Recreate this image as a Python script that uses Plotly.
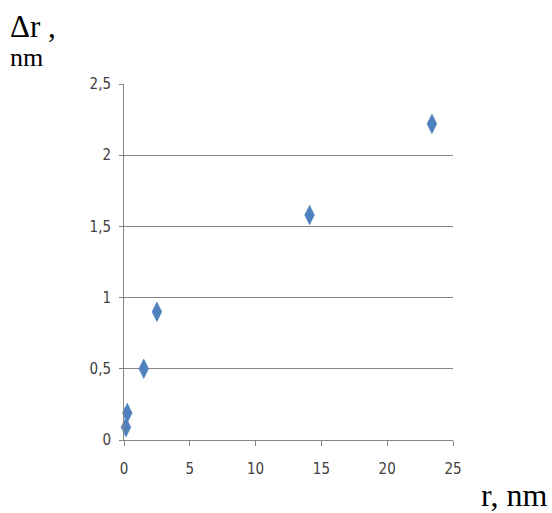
import plotly.graph_objects as go

r_nm = [0.15, 0.25, 1.5, 2.5, 14.1, 23.4]
dr_nm = [0.09, 0.19, 0.50, 0.90, 1.58, 2.22]

x_ticks = [0, 5, 10, 15, 20, 25]
x_ticktext = ["0", "5", "10", "15", "20", "25"]
y_ticks = [0, 0.5, 1, 1.5, 2, 2.5]
y_ticktext = ["0", "0,5", "1", "1,5", "2", "2,5"]

tick_font = dict(family="Liberation Sans Narrow, DejaVu Sans Condensed, Arial Narrow", size=15, color="#404040")
serif = "Liberation Serif, Times New Roman"

fig = go.Figure()
fig.add_trace(go.Scatter(
    x=r_nm, y=dr_nm, mode="markers",
    marker=dict(symbol="diamond-tall", size=14, color="#4F81BD",
                line=dict(width=0.5, color="#4A7EBB")),
    showlegend=False, cliponaxis=False,
))

fig.update_layout(
    width=552, height=513,
    margin=dict(l=124, r=99, t=84, b=73),
    paper_bgcolor="white", plot_bgcolor="white",
    xaxis=dict(range=[0, 25], tickvals=x_ticks, ticktext=x_ticktext,
               showgrid=False, zeroline=False, showline=True, linecolor="#868686",
               linewidth=1, ticks="outside", ticklen=5, tickcolor="#868686",
               tickfont=tick_font, ticklabelstandoff=10, fixedrange=True),
    yaxis=dict(range=[0, 2.5], tickvals=y_ticks, ticktext=y_ticktext,
               showgrid=True, gridcolor="#868686", gridwidth=1, zeroline=False,
               showline=True, linecolor="#868686", linewidth=1,
               ticks="outside", ticklen=4, tickcolor="#868686",
               tickfont=tick_font, ticklabelstandoff=5, fixedrange=True),
    annotations=[
        dict(text="Δr ,", xref="paper", yref="paper", x=-124/329, y=1 + 84/356,
             xanchor="left", yanchor="top", showarrow=False,
             font=dict(family=serif, size=31, color="#000000"),
             xshift=8, yshift=-7),
        dict(text="nm", xref="paper", yref="paper", x=-124/329, y=1 + 84/356,
             xanchor="left", yanchor="top", showarrow=False,
             font=dict(family=serif, size=26, color="#000000"),
             xshift=8, yshift=-41),
        dict(text="r, nm", xref="paper", yref="paper", x=1 + 99/329, y=-73/356,
             xanchor="right", yanchor="bottom", showarrow=False,
             font=dict(family=serif, size=32, color="#000000"),
             xshift=-3, yshift=-2),
    ],
)

fig.write_html("out.html")
